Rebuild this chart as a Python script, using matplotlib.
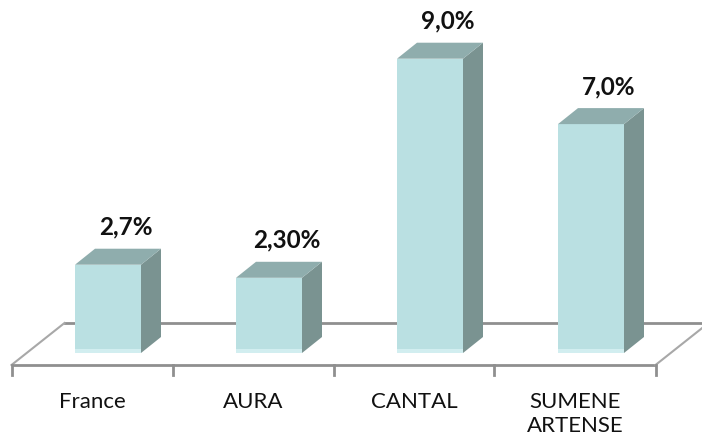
import numpy as np
import matplotlib
matplotlib.use('Agg')
import matplotlib.pyplot as plt
from matplotlib.patches import Polygon

categories = ['France', 'AURA', 'CANTAL', 'SUMENE\nARTENSE']
values = [2.7, 2.3, 9.0, 7.0]
value_labels = ['2,7%', '2,30%', '9,0%', '7,0%']

FRONT = '#bae0e2'
TOP = '#8fadad'
SIDE = '#7a9391'
FLOOR = '#8f8f8f'

plt.rcParams['font.family'] = ['Lato', 'DejaVu Sans']

fig = plt.figure(figsize=(7.02, 4.45), dpi=100)
ax = fig.add_axes([0, 0, 1, 1])

# scales: 161 px per category, ~32.7 px per percent
px_x = 161.0
px_y = 32.7
ax.set_xlim(-108 / px_x, (702 - 108) / px_x)
ax.set_ylim(-92 / px_y, (445 - 92) / px_y)
ax.axis('off')

half_w = 33 / px_x
dx, dy = 20 / px_x, 16 / px_y       # bar depth offset
fdx, fdy = 53 / px_x, 42 / px_y     # floor depth offset
front_y = -12 / px_y
shift = 16 / px_x                   # bar front center vs floor category center

n = len(categories)
left = -0.5 - shift
right = n - 0.5 - shift

# floor
ax.plot([left, right], [front_y, front_y], color=FLOOR, lw=2, zorder=1, solid_capstyle='butt')
ax.plot([left + fdx, right + fdx], [front_y + fdy, front_y + fdy], color=FLOOR, lw=2, zorder=1)
ax.plot([left, left + fdx], [front_y, front_y + fdy], color='#a8a8a8', lw=1.5, zorder=1)
ax.plot([right, right + fdx], [front_y, front_y + fdy], color='#a8a8a8', lw=1.5, zorder=1)
for k in range(n + 1):
    xt = left + k
    ax.plot([xt, xt], [front_y, front_y - 10 / px_y], color=FLOOR, lw=2, zorder=1)

for i, (v, lab) in enumerate(zip(values, value_labels)):
    x0, x1 = i - half_w, i + half_w
    ax.add_patch(Polygon([(x0, 0), (x1, 0), (x1, v), (x0, v)], closed=True,
                         facecolor=FRONT, edgecolor='none', zorder=3))
    ax.add_patch(Polygon([(x0, 0), (x1, 0), (x1, 0.12), (x0, 0.12)], closed=True,
                         facecolor='#d2eef0', edgecolor='none', zorder=3))
    ax.add_patch(Polygon([(x1, 0), (x1 + dx, dy), (x1 + dx, v + dy), (x1, v)], closed=True,
                         facecolor=SIDE, edgecolor='none', zorder=3))
    ax.add_patch(Polygon([(x0, v), (x1, v), (x1 + dx, v + dy), (x0 + dx, v + dy)], closed=True,
                         facecolor=TOP, edgecolor='none', zorder=3))
    ax.text(i + dx / 2 + 0.05, v + dy + 14 / px_y, lab, ha='center', va='baseline',
            fontsize=17.5, fontweight='bold', color='#111111', zorder=4)

# category labels, one text per line (baselines 24 px apart)
for i, c in enumerate(categories):
    for j, line in enumerate(c.split('\n')):
        ax.text(i - shift, front_y - (43 + 24 * j) / px_y, line, ha='center', va='baseline',
                fontsize=16, color='#111111')

fig.savefig('out.png', dpi=100)
